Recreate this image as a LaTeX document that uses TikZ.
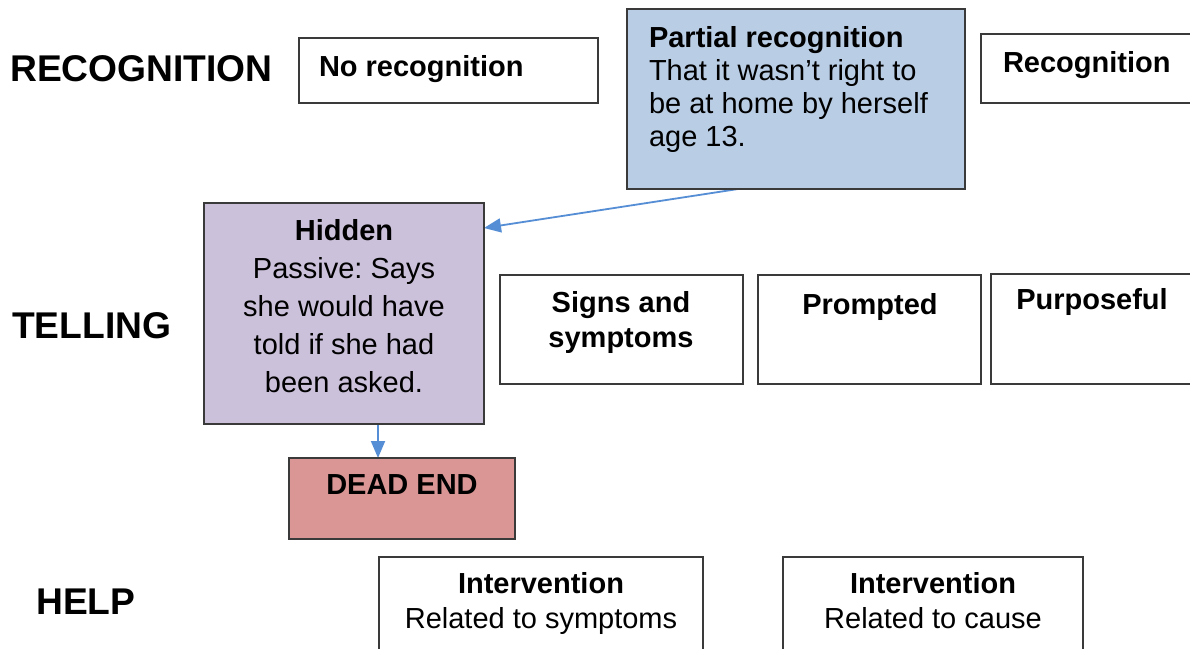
\documentclass[tikz,border=0pt]{standalone}
\usepackage{fontspec}
\setmainfont{Liberation Sans}
\frenchspacing
\usetikzlibrary{arrows.meta}
\definecolor{edgegray}{HTML}{3A3A3A}
\definecolor{partialblue}{HTML}{B9CDE5}
\definecolor{hiddenlilac}{HTML}{CCC1DA}
\definecolor{deadred}{HTML}{D99694}
\definecolor{arrowblue}{HTML}{558ED5}
\tikzset{
  box/.style={draw=edgegray, line width=1.2pt, inner sep=0pt, outer sep=0pt},
  txt/.style={inner sep=0pt, outer sep=0pt, font=\fontsize{29}{33}\selectfont},
  rowlabel/.style={inner sep=0pt, anchor=north west, font=\fontsize{37.2}{40}\selectfont\bfseries},
  conn/.style={draw=arrowblue, line width=1.8pt, -{Triangle[length=17pt,width=14pt]}}
}
\begin{document}
\begin{tikzpicture}[x=1pt,y=-1pt]
\useasboundingbox (0,0) rectangle (1190,648);
\clip (0,0) rectangle (1190,648);
\fill[white] (0,0) rectangle (1190,648);

% row labels
\node[rowlabel] (lrec) at (10,55) {RECOGNITION};
\node[rowlabel] (ltel) at (12,312) {TELLING};
\node[rowlabel] (lhelp) at (36,589) {HELP};

% recognition row
\draw[box] (299,38) rectangle (598,103);
\node[txt, anchor=north west, font=\fontsize{29}{33}\selectfont\bfseries] (norect) at (319,55) {No recognition};

\path[box, fill=partialblue] (627,9) rectangle (965,189);
\node[box, draw=none, minimum width=338pt, minimum height=180pt, anchor=north west] (partial) at (627,9) {};
\node[txt, anchor=north west, align=left] (partialt) at (649,26)
  {\textbf{Partial recognition}\\That it wasn’t right to\\be at home by herself\\age 13.};

\draw[box] (981,34) rectangle (1200,103);
\node[txt, anchor=north west, font=\fontsize{29}{33}\selectfont\bfseries] (rect) at (1003,51) {Recognition};

% telling row
\path[box, fill=hiddenlilac] (204,203) rectangle (484,424);
\node[box, draw=none, minimum width=280pt, minimum height=221pt, anchor=north west] (hidden) at (204,203) {};
\node[txt, anchor=north, align=center, font=\fontsize{29}{38}\selectfont] (hiddent) at (344,219)
  {\textbf{Hidden}\\Passive: Says\\she would have\\told if she had\\been asked.};

\draw[box] (500,275) rectangle (743,384);
\node[txt, anchor=north, align=center, font=\fontsize{29}{35}\selectfont\bfseries] (signs) at (621,291) {Signs and\\symptoms};

\draw[box] (758,275) rectangle (981,384);
\node[txt, anchor=north, font=\fontsize{29}{33}\selectfont\bfseries] (prompted) at (870,293) {Prompted};

\draw[box] (991,274) rectangle (1200,384);
\node[txt, anchor=north, font=\fontsize{29}{33}\selectfont\bfseries] (purpose) at (1092,288) {Purposeful};

% dead end
\path[box, fill=deadred] (289,458) rectangle (515,539);
\node[box, draw=none, minimum width=226pt, minimum height=81pt, anchor=north west] (dead) at (289,458) {};
\node[txt, anchor=north, font=\fontsize{29}{33}\selectfont\bfseries] (deadt) at (402,475) {DEAD END};

% help row
\draw[box] (379,557) rectangle (703,660);
\node[txt, anchor=north, align=center, font=\fontsize{29}{35}\selectfont] (int1) at (541,572)
  {\textbf{Intervention}\\Related to symptoms};
\draw[box] (783,557) rectangle (1083,660);
\node[txt, anchor=north, align=center, font=\fontsize{29}{35}\selectfont] (int2) at (933,572)
  {\textbf{Intervention}\\Related to cause};

% connectors
\coordinate (pstart) at ([xshift=111pt]partial.south west);
\coordinate (hend) at ([yshift=-25pt]hidden.north east);
\draw[conn] (pstart) -- (hend);
\coordinate (hbot) at ([xshift=174pt]hidden.south west);
\coordinate (dtop) at ([xshift=89pt]dead.north west);
\draw[conn] (hbot) -- (dtop);

% box outlines on top
\draw[box] (627,9) rectangle (965,189);
\draw[box] (204,203) rectangle (484,424);
\draw[box] (289,458) rectangle (515,539);
\end{tikzpicture}
\end{document}
